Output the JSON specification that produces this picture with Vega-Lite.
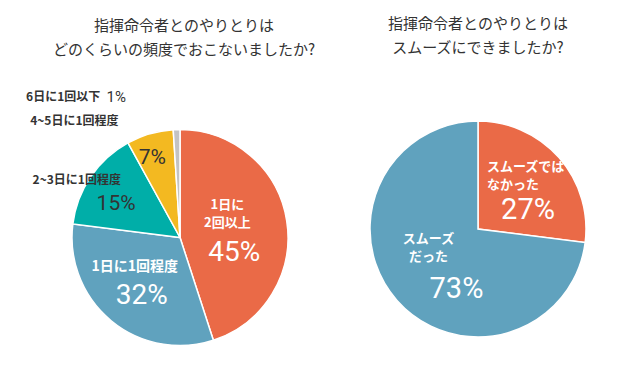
{
  "$schema": "https://vega.github.io/schema/vega-lite/v6.json",
  "padding": {"left": 0, "top": 17, "right": 0, "bottom": 0},
  "background": "white",
  "spacing": 0,
  "bounds": "flush",
  "config": {
    "view": {"stroke": null},
    "title": {"font": "Noto Sans CJK JP", "fontSize": 15, "fontWeight": "normal", "color": "#333333", "lineHeight": 24, "anchor": "middle", "frame": "group"}
  },
  "datasets": {
    "freq": [
      {"category": "1日に2回以上", "label": "1日に\n2回以上", "value": 45, "pct": "45%"},
      {"category": "1日に1回程度", "label": "1日に1回程度", "value": 32, "pct": "32%"},
      {"category": "2~3日に1回程度", "label": "2~3日に1回程度", "value": 15, "pct": "15%"},
      {"category": "4~5日に1回程度", "label": "4~5日に1回程度", "value": 7, "pct": "7%"},
      {"category": "6日に1回以下", "label": "6日に1回以下", "value": 1, "pct": "1%"}
    ],
    "smooth": [
      {"category": "スムーズではなかった", "label": "スムーズでは\nなかった", "value": 27, "pct": "27%"},
      {"category": "スムーズだった", "label": "スムーズ\nだった", "value": 73, "pct": "73%"}
    ]
  },
  "hconcat": [
    {
      "width": 360,
      "height": 257,
      "title": {"text": ["指揮命令者とのやりとりは", "どのくらいの頻度でおこないましたか?"], "offset": 32, "dx": 4},
      "data": {"name": "freq"},
      "encoding": {
        "theta": {"field": "value", "type": "quantitative", "stack": true},
        "order": {"field": "value", "sort": "descending"}
      },
      "layer": [
        {
          "mark": {"type": "arc", "outerRadius": 108, "stroke": "white", "strokeWidth": 1.5},
          "encoding": {
            "color": {"field": "category", "type": "nominal", "legend": null,
              "scale": {"domain": ["1日に2回以上", "1日に1回程度", "2~3日に1回程度", "4~5日に1回程度", "6日に1回以下"],
                        "range": ["#EA6A47", "#60A2BE", "#00AEA8", "#F3B921", "#C3C3C3"]}}
          }
        },
        {
          "mark": {"type": "text", "radius": 55, "dx": -7, "dy": -24, "font": "Noto Sans CJK JP", "fontWeight": "bold", "fontSize": 13, "lineHeight": 18, "lineBreak": "\n", "color": "white", "align": "center", "baseline": "middle"},
          "encoding": {"detail": {"field": "category"}, "text": {"condition": {"test": "datum.category === '1日に2回以上'", "field": "label"}, "value": ""}}
        },
        {
          "mark": {"type": "text", "radius": 55, "dx": 0, "dy": 24, "font": "Roboto", "fontSize": 28, "color": "white", "align": "center", "baseline": "middle"},
          "encoding": {"detail": {"field": "category"}, "text": {"condition": {"test": "datum.category === '1日に2回以上'", "field": "pct"}, "value": ""}}
        },
        {
          "mark": {"type": "text", "radius": 63, "dx": -5, "dy": -19, "font": "Noto Sans CJK JP", "fontWeight": "bold", "fontSize": 14, "color": "white", "align": "center", "baseline": "middle"},
          "encoding": {"detail": {"field": "category"}, "text": {"condition": {"test": "datum.category === '1日に1回程度'", "field": "label"}, "value": ""}}
        },
        {
          "mark": {"type": "text", "radius": 63, "dx": 2, "dy": 10, "font": "Roboto", "fontSize": 28, "color": "white", "align": "center", "baseline": "middle"},
          "encoding": {"detail": {"field": "category"}, "text": {"condition": {"test": "datum.category === '1日に1回程度'", "field": "pct"}, "value": ""}}
        },
        {
          "mark": {"type": "text", "radius": 70, "dx": -6, "dy": 6, "font": "Roboto", "fontSize": 21, "color": "#333333", "align": "center", "baseline": "middle"},
          "encoding": {"detail": {"field": "category"}, "text": {"condition": {"test": "datum.category === '2~3日に1回程度'", "field": "pct"}, "value": ""}}
        },
        {
          "mark": {"type": "text", "radius": 85, "dx": -4, "dy": 2, "font": "Roboto", "fontSize": 21, "color": "#333333", "align": "center", "baseline": "middle"},
          "encoding": {"detail": {"field": "category"}, "text": {"condition": {"test": "datum.category === '4~5日に1回程度'", "field": "pct"}, "value": ""}}
        },
        {
          "mark": {"type": "text", "radius": 120, "dx": -4, "dy": 10, "font": "Noto Sans CJK JP", "fontWeight": "bold", "fontSize": 12, "color": "#333333", "align": "center", "baseline": "middle"},
          "encoding": {"detail": {"field": "category"}, "text": {"condition": {"test": "datum.category === '2~3日に1回程度'", "field": "label"}, "value": ""}}
        },
        {
          "mark": {"type": "text", "radius": 120, "dx": -28, "dy": -1, "font": "Noto Sans CJK JP", "fontWeight": "bold", "fontSize": 12, "color": "#333333", "align": "right", "baseline": "middle"},
          "encoding": {"detail": {"field": "category"}, "text": {"condition": {"test": "datum.category === '4~5日に1回程度'", "field": "label"}, "value": ""}}
        },
        {
          "mark": {"type": "text", "radius": 120, "dx": -76, "dy": -21, "font": "Noto Sans CJK JP", "fontWeight": "bold", "fontSize": 12, "color": "#333333", "align": "right", "baseline": "middle"},
          "encoding": {"detail": {"field": "category"}, "text": {"condition": {"test": "datum.category === '6日に1回以下'", "field": "label"}, "value": ""}}
        },
        {
          "mark": {"type": "text", "radius": 120, "dx": -60, "dy": -21, "font": "Roboto", "fontSize": 15, "color": "#333333", "align": "center", "baseline": "middle"},
          "encoding": {"detail": {"field": "category"}, "text": {"condition": {"test": "datum.category === '6日に1回以下'", "field": "pct"}, "value": ""}}
        }
      ]
    },
    {
      "width": 236,
      "height": 240,
      "title": {"text": ["指揮命令者とのやりとりは", "スムーズにできましたか?"], "offset": 53},
      "data": {"name": "smooth"},
      "encoding": {
        "theta": {"field": "value", "type": "quantitative", "stack": true},
        "order": {"field": "value", "sort": "ascending"}
      },
      "layer": [
        {
          "mark": {"type": "arc", "outerRadius": 108, "stroke": "white", "strokeWidth": 1.5},
          "encoding": {
            "color": {"field": "category", "type": "nominal", "legend": null,
              "scale": {"domain": ["スムーズではなかった", "スムーズだった"], "range": ["#EA6A47", "#60A2BE"]}}
          }
        },
        {
          "mark": {"type": "text", "radius": 60, "dx": -36, "dy": -22, "font": "Noto Sans CJK JP", "fontWeight": "bold", "fontSize": 13, "lineHeight": 18, "lineBreak": "\n", "color": "white", "align": "left", "baseline": "middle"},
          "encoding": {"detail": {"field": "category"}, "text": {"condition": {"test": "datum.category === 'スムーズではなかった'", "field": "label"}, "value": ""}}
        },
        {
          "mark": {"type": "text", "radius": 60, "dx": 5, "dy": 21, "font": "Roboto", "fontSize": 29, "color": "white", "align": "center", "baseline": "middle"},
          "encoding": {"detail": {"field": "category"}, "text": {"condition": {"test": "datum.category === 'スムーズではなかった'", "field": "pct"}, "value": ""}}
        },
        {
          "mark": {"type": "text", "radius": 70, "dx": 3, "dy": -36, "font": "Noto Sans CJK JP", "fontWeight": "bold", "fontSize": 13, "lineHeight": 18, "lineBreak": "\n", "color": "white", "align": "center", "baseline": "middle"},
          "encoding": {"detail": {"field": "category"}, "text": {"condition": {"test": "datum.category === 'スムーズだった'", "field": "label"}, "value": ""}}
        },
        {
          "mark": {"type": "text", "radius": 70, "dx": 31, "dy": 14, "font": "Roboto", "fontSize": 29, "color": "white", "align": "center", "baseline": "middle"},
          "encoding": {"detail": {"field": "category"}, "text": {"condition": {"test": "datum.category === 'スムーズだった'", "field": "pct"}, "value": ""}}
        }
      ]
    }
  ]
}
